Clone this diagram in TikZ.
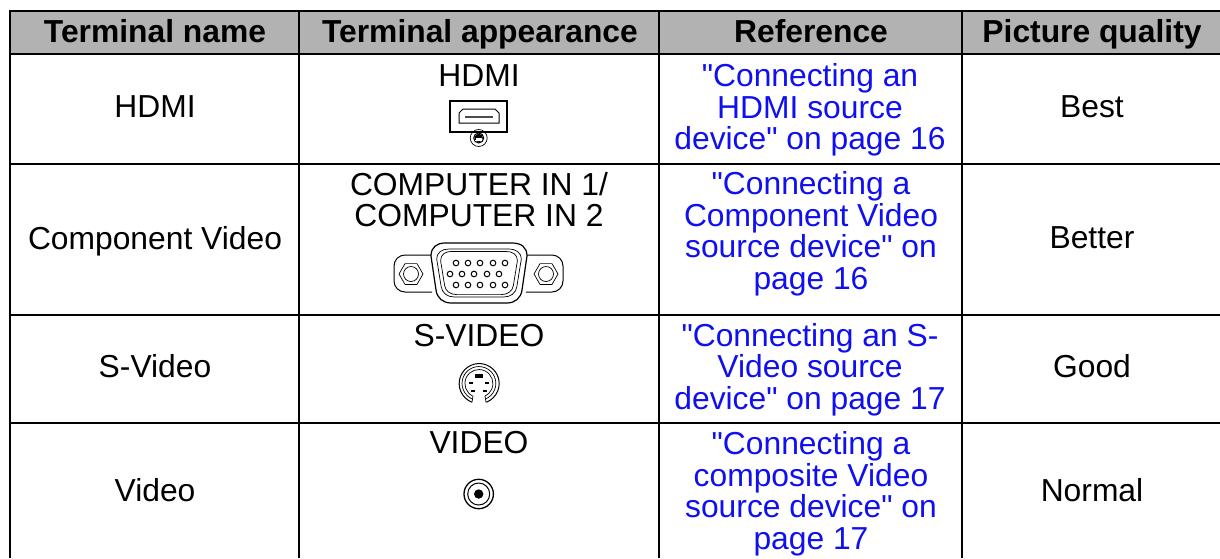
\documentclass[tikz,border=0pt]{standalone}
\usepackage{fontspec}
\newfontfamily\lsans{Liberation Sans}
\definecolor{hdr}{HTML}{B2B2B2}
\definecolor{lnk}{HTML}{0F0FF0}
\newcommand{\R}{\lsans\fontsize{31.8}{31.5}\selectfont}
\newcommand{\vgabody}{(-48,-17) .. controls (-48,-26) and (-42,-30) .. (-34,-30) -- (33,-30) .. controls (42,-30) and (48,-26) .. (48,-17) -- (43,17) .. controls (42,25) and (36,30) .. (28,30) -- (-28,30) .. controls (-36,30) and (-42,25) .. (-43,17) -- cycle}
\tikzset{
  x=1pt,y=-1pt,
  rule/.style={line width=2.5pt,black},
  hd/.style={font=\R\bfseries,anchor=base,inner sep=0pt},
  cell/.style={font=\R,align=center,anchor=center,inner sep=0pt},
  ref/.style={cell,text=lnk},
  ic/.style={line width=1pt,black},
  icthin/.style={line width=.7pt,black}
}
\begin{document}
\begin{tikzpicture}
\useasboundingbox (0,0) rectangle (1220,558);
\fill[hdr] (10,11) rectangle (1220,54);
\foreach \y in {11,54,164,315,423}{\draw[rule] (9,\y) -- (1220,\y);}
\foreach \x in {10,299,659,962}{\draw[rule] (\x,10) -- (\x,558);}
\node[hd] (h1) at (155,42) {Terminal name};
\node[hd] (h2) at (480,42) {Terminal appearance};
\node[hd] (h3) at (811,42) {Reference};
\node[hd] (h4) at (1092,42) {Picture quality};
\node[cell] (a1) at (155,107) {HDMI};
\node[cell] (a2) at (155,241) {Component Video};
\node[cell] (a3) at (155,366) {S-Video};
\node[cell] (a4) at (155,490.5) {Video};
\node[cell] (b1) at (479,76) {HDMI};
\node[cell] (b2) at (479,199.5) {COMPUTER IN 1/\\COMPUTER IN 2};
\node[cell] (b3) at (479,336) {S-VIDEO};
\node[cell] (b4) at (479,443) {VIDEO};
\node[ref] (c1) at (810,110) {"Connecting an\\HDMI source\\device" on page 16};
\node[ref] (c2) at (811,234) {"Connecting a\\Component Video\\source device" on\\page 16};
\node[ref] (c3) at (810,369.5) {"Connecting an S-\\Video source\\device" on page 17};
\node[ref] (c4) at (811,494) {"Connecting a\\composite Video\\source device" on\\page 17};
\node[cell] (d1) at (1092,107) {Best};
\node[cell] (d2) at (1092,238) {Better};
\node[cell] (d3) at (1092,366) {Good};
\node[cell] (d4) at (1092,490.5) {Normal};
% HDMI icon
\draw[ic,line width=1.3pt] (450,101) rectangle (507,132);
\draw[ic] (463,109) -- (495,109) -- (499,113) -- (499,123) -- (459,123) -- (459,113) -- cycle;
\draw[line width=1.4pt,black!70] (465,117) -- (493,117);
\draw[icthin] (478.7,138) circle (8.5);
\draw[ic] (478.7,138) circle (5);
\fill (478.7,138) circle (4.2);
\fill[white] (475.5,137.6) rectangle (482,139.6);
\fill[white] (475,139.6) rectangle (482.4,141);
% VGA icon
\draw[ic,rounded corners=11] (432,255) -- (394,255) -- (394,292) -- (432,292);
\draw[ic,rounded corners=11] (526,255) -- (563,255) -- (563,292) -- (526,292);
\foreach \cx in {411,546}{
  \begin{scope}[shift={(\cx,274)}]
  \draw[icthin] (-12,0) -- (-6,-10.4) -- (6,-10.4) -- (12,0) -- (6,10.4) -- (-6,10.4) -- cycle;
  \draw[icthin] (0,0) circle (7.5);
  \end{scope}
}
\begin{scope}[shift={(479,273)}]
\draw[line width=1.2pt,fill=white] \vgabody;
\begin{scope}[xscale=.88,yscale=.80]\draw[icthin] \vgabody;\end{scope}
\begin{scope}[xscale=.80,yscale=.72]\draw[icthin] \vgabody;\end{scope}
\end{scope}
\foreach \x in {456,468,480,493,505}{
  \draw[ic] (\x,263) circle (2.8);
  \draw[ic] (\x,285) circle (2.8);
}
\foreach \x in {450,462,474,487,499}{\draw[ic] (\x,274) circle (2.8);}
% S-Video icon
\begin{scope}[shift={(479,383.5)}]
\draw[line width=1pt] (-7,18.7) arc (111:429:20);
\draw[icthin] (-6.4,15.6) arc (112:428:16.9);
\draw[icthin] (-6,12.7) arc (115:425:14);
\draw[icthin] (-7,18.7) -- (-6,12.7) (7,18.7) -- (6,12.7);
\fill (-4,-9.5) rectangle (3.7,-5.5);
\fill (-9.7,-1.2) rectangle (-5.7,0.8);
\fill (6,-1.2) rectangle (10,0.8);
\fill (-8.3,6.5) rectangle (-4.3,8.2);
\fill (4.3,6.5) rectangle (8.3,8.2);
\end{scope}
% Video icon
\draw[line width=1.3pt] (478.7,494) circle (14.7);
\draw[ic] (478.7,494) circle (11);
\fill (478.7,494) circle (4.7);
\end{tikzpicture}
\end{document}
